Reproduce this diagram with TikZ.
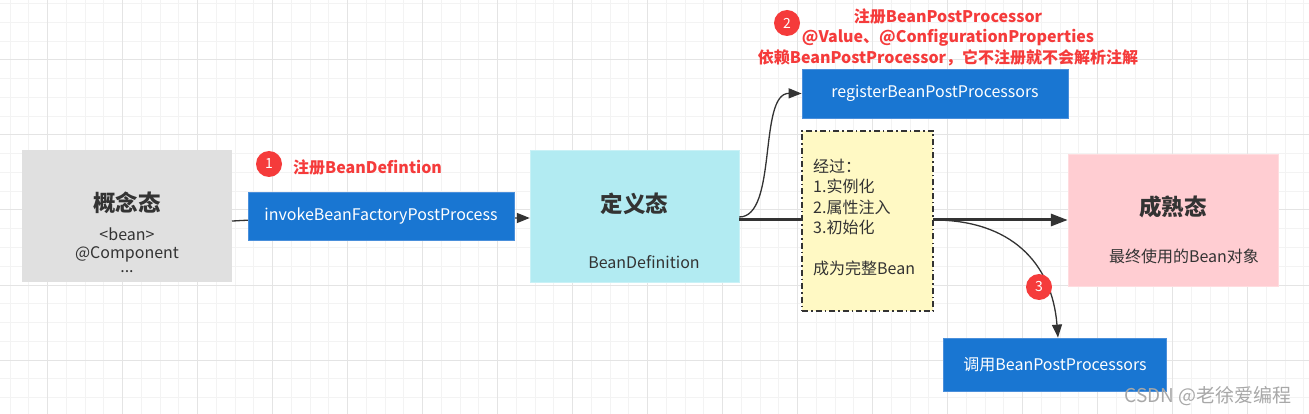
\documentclass[tikz,border=0pt]{standalone}
\usepackage{fontspec}
\setmainfont{Noto Sans CJK SC}
\usetikzlibrary{arrows.meta}
\definecolor{gridminor}{HTML}{F3F3F3}
\definecolor{gridmajor}{HTML}{E4E4E4}
\definecolor{ink}{HTML}{333333}
\definecolor{blueF}{HTML}{1976D2}
\definecolor{blueD}{HTML}{4A8FDB}
\definecolor{grayF}{HTML}{E0E0E0}
\definecolor{cyanF}{HTML}{B2EBF2}
\definecolor{pinkF}{HTML}{FFCDD2}
\definecolor{yelF}{HTML}{FFF9C4}
\definecolor{redT}{HTML}{F53B3B}
\definecolor{wm}{HTML}{A8A8A8}
\begin{document}
\begin{tikzpicture}[x=1pt,y=-1pt,
  statebox/.style={rectangle,inner sep=0pt,minimum width=#1},
  bluebox/.style={rectangle,fill=blueF,draw=blueD,line width=0.8pt,inner sep=0pt,text=white,font=\fontsize{16}{19}\selectfont},
  title/.style={font=\bfseries\fontsize{22.5}{26}\selectfont,text=ink,inner sep=0pt},
  body/.style={font=\fontsize{16}{19}\selectfont,text=ink,inner sep=0pt},
  redtxt/.style={font=\bfseries\fontsize{16}{20.5}\selectfont,text=redT,inner sep=0pt},
  badge/.style={circle,fill=redT,text=white,minimum size=26pt,inner sep=0pt,font=\fontsize{14}{16}\selectfont},
  conn/.style={draw=ink,line width=1.3pt,-{Triangle[length=13pt,width=10pt]}},
  thick conn/.style={draw=ink,line width=3pt,-{Triangle[length=17pt,width=12pt]}},
]
\useasboundingbox (0,0) rectangle (1309,414);
\fill[white] (0,0) rectangle (1309,414);
% grid
\foreach \i in {0,...,69} {\draw[gridminor,line width=1pt] ({10+18.75*\i},0) -- ({10+18.75*\i},414);}
\foreach \i in {0,...,21} {\draw[gridminor,line width=1pt] (0,{3.75+18.75*\i}) -- (1309,{3.75+18.75*\i});}
\foreach \i in {0,...,16} {\draw[gridmajor,line width=1pt] ({47.5+75*\i},0) -- ({47.5+75*\i},414);}
\foreach \i in {0,...,4} {\draw[gridmajor,line width=1pt] (0,{60+75*\i}) -- (1309,{60+75*\i});}

% state boxes
\node[statebox=210pt,minimum height=132pt,fill=grayF] (gray) at (127,216) {};
\node[title] (grayT) at (127,203) {概念态};
\node[body] (grayL1) at (127,234) {<bean>};
\node[body] (grayL2) at (127,254) {@Component};
\node[body] (grayL3) at (127,272) {...};

\node[statebox=209pt,minimum height=132pt,fill=cyanF,draw=cyanF!70!white] (def) at (634.5,216) {};
\node[title] (defT) at (634.5,204) {定义态};
\node[body] (defL) at (644,262) {BeanDefinition};

\node[statebox=210pt,minimum height=132pt,fill=pinkF,draw=pinkF!70!white] (mat) at (1173,220) {};
\node[title] (matT) at (1173,207) {成熟态};
\node[body] (matL) at (1184,256) {最终使用的Bean对象};

% connectors behind labels
\coordinate (gout) at (232,221);
\path[conn] (gout) .. controls (240,221) and (240,218) .. (def.west |- 0,218);
\path[thick conn] (def.east |- 0,220) -- (mat.west |- 0,220);

% invoke box on the arrow
\node[bluebox,minimum width=266pt,minimum height=48pt] (invoke) at (381,216) {invokeBeanFactoryPostProcess};
\node[badge] (b1) at (269,164) {1};
\node[redtxt,anchor=west] (r1) at (293,167) {注册BeanDefintion};

% register
\node[bluebox,minimum width=266pt,minimum height=49pt] (reg) at (935,93.5) {registerBeanPostProcessors};
\path[conn] (def.east |- 0,217) .. controls (778,217) and (758,93) .. (reg.west);
\node[badge] (b2) at (787,23) {2};
\node[redtxt,align=center] (r2) at (948,37) {注册BeanPostProcessor\\@Value、@ConfigurationProperties\\依赖BeanPostProcessor，它不注册就不会解析注解};

% yellow note box
\node[rectangle,fill=yelF,draw=ink,line width=1.2pt,dash pattern=on 6pt off 3pt on 1.5pt off 3pt,minimum width=131pt,minimum height=180pt,inner sep=0pt] (note) at (867.5,221) {};
\node[body,anchor=north west,align=left,font=\fontsize{16}{20.3}\selectfont] (noteT) at (813,159) {经过：\\1.实例化\\2.属性注入\\3.初始化\\\\成为完整Bean};

% call box
\node[bluebox,minimum width=223pt,minimum height=53pt] (call) at (1055,364.5) {调用BeanPostProcessors};
\path[conn] (note.east |- 0,220) .. controls (1010,220) and (1052,262) .. (call.north -| 1058,0);
\node[badge] (b3) at (1039,287) {3};

% watermark
\node[font=\fontsize{19}{22}\selectfont,text=wm,inner sep=0pt] (wmark) at (1208,396) {CSDN @老徐爱编程};
\end{tikzpicture}
\end{document}
